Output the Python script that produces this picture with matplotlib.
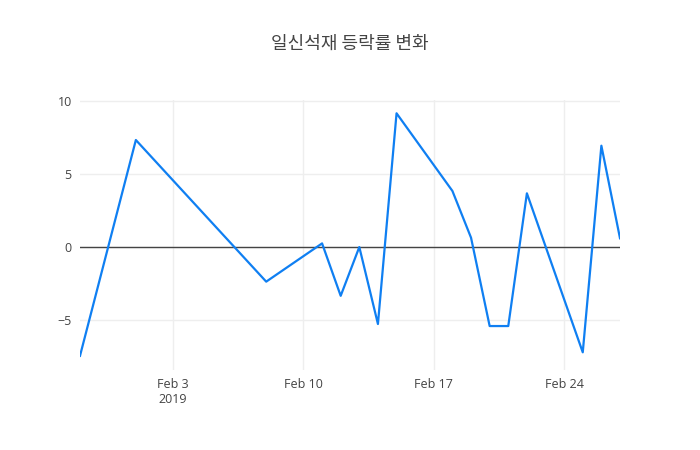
import matplotlib
matplotlib.use("Agg")
import matplotlib.pyplot as plt
import matplotlib.dates as mdates
import pandas as pd

plt.rcParams['font.family'] = ['Open Sans', 'Noto Sans CJK KR', 'DejaVu Sans']

# 일신석재 daily change (%)
dates = ["2019-01-29", "2019-02-01", "2019-02-08", "2019-02-11", "2019-02-12",
         "2019-02-13", "2019-02-14", "2019-02-15", "2019-02-18", "2019-02-19",
         "2019-02-20", "2019-02-21", "2019-02-22", "2019-02-25", "2019-02-26",
         "2019-02-27"]
rates = [-7.45, 7.33, -2.37, 0.25, -3.34, 0.0, -5.27, 9.16, 3.84, 0.64,
         -5.41, -5.41, 3.68, -7.21, 6.94, 0.6]

tick_dates = ["2019-02-03", "2019-02-10", "2019-02-17", "2019-02-24"]
tick_labels = ["Feb 3\n2019", "Feb 10", "Feb 17", "Feb 24"]
y_ticks = [-5, 0, 5, 10]

x = pd.to_datetime(dates)

fig = plt.figure(figsize=(7, 4.5), dpi=100)
ax = fig.add_axes([80 / 700, 1 - 370 / 450, 540 / 700, 270 / 450])

ax.plot(x, rates, color='#0f7ff2', linewidth=1.6, zorder=3)
ax.axhline(0, color='#444444', linewidth=1, zorder=2)

ax.set_xlim(x[0], x[-1])
ax.set_ylim(-8.42, 10.07)

ax.set_xticks(pd.to_datetime(tick_dates))
ax.set_xticklabels(tick_labels)
ax.set_yticks(y_ticks)
ax.set_yticklabels([str(v).replace('-', '\u2212') for v in y_ticks])

ax.grid(True, color='#eeeeee', linewidth=1, zorder=0)
ax.set_axisbelow(True)
for s in ax.spines.values():
    s.set_visible(False)
ax.tick_params(length=0, labelsize=9, labelcolor='#444444', pad=6)

fig.suptitle("일신석재 등락률 변화", x=0.5, y=1 - 44 / 450, va='center',
             fontsize=13, color='#444444',
             family=['Noto Sans CJK KR', 'DejaVu Sans'])

fig.savefig("out.png", dpi=100, facecolor='white')
